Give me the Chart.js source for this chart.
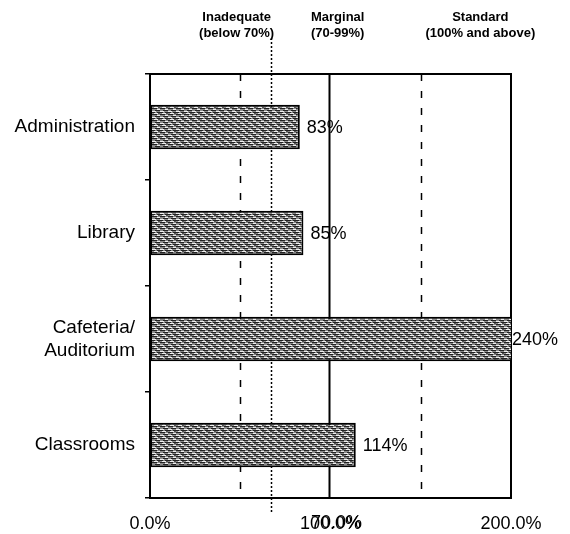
<!DOCTYPE html>
<html>
<head>
<meta charset="utf-8">
<script src="https://cdn.jsdelivr.net/npm/chart.js"></script>
<style>
  html, body { margin: 0; padding: 0; background: #fff; }
  #wrap { width: 570px; height: 534px; }
</style>
</head>
<body>
<div id="wrap"><canvas id="chart"></canvas></div>
<script>
// data
var categories = ['Administration', 'Library', ['Cafeteria/', 'Auditorium'], 'Classrooms'];
var values = [83, 85, 240, 114];
var valueLabels = ['83%', '85%', '240%', '114%'];
var axisTicks = [0, 100, 200];

// reference lines across the plot (value, style)
var refLines = [
    { value: 50, style: 'dashed' },
    { value: 67, style: 'dotted' },
    { value: 99, style: 'solid' },
    { value: 150, style: 'dashed' }
];
// band headers at the top
var headerLines = [
    ['Inadequate', '(below 70%)'],
    ['Marginal', '(70-99%)'],
    ['Standard', '(100% and above)']
];
var headerAt = [48, 104, 183];

function makePattern() {
    var c = document.createElement('canvas');
    c.width = 8; c.height = 6;
    var g = c.getContext('2d');
    g.fillStyle = '#8a8a8a';
    g.fillRect(0, 0, 8, 6);
    g.fillStyle = '#222';
    g.fillRect(0, 0, 5, 1);
    g.fillRect(3, 2, 5, 1);
    g.fillRect(0, 4, 3, 1);
    g.fillRect(5, 4, 3, 1);
    g.fillStyle = '#f0f0f0';
    g.fillRect(5, 1, 3, 1);
    g.fillRect(0, 3, 4, 1);
    g.fillRect(2, 5, 4, 1);
    g.fillStyle = '#555';
    g.fillRect(6, 5, 2, 1);
    return document.getElementById('chart').getContext('2d').createPattern(c, 'repeat');
}

var overlay = {
    id: 'overlay',
    beforeDatasetsDraw: function (chart) {
        var ctx = chart.ctx, a = chart.chartArea, x = chart.scales.x;
        ctx.save();
        ctx.strokeStyle = '#000';
        refLines.forEach(function (r) {
            var px = Math.round(x.getPixelForValue(r.value)) + 0.5;
            var y0 = a.top, y1 = a.bottom;
            ctx.beginPath();
            if (r.style === 'dashed') { ctx.setLineDash([7, 10]); ctx.lineWidth = 1.5; }
            else if (r.style === 'dotted') { ctx.setLineDash([2, 2]); ctx.lineWidth = 1.5; y0 = 38; y1 = 512; }
            else { ctx.setLineDash([]); ctx.lineWidth = 2; }
            ctx.moveTo(px, y0);
            ctx.lineTo(px, y1);
            ctx.stroke();
        });
        ctx.setLineDash([]);
        ctx.lineWidth = 2;
        ctx.beginPath();
        ctx.moveTo(a.left, a.top);
        ctx.lineTo(a.right, a.top);
        ctx.lineTo(a.right, a.bottom);
        ctx.stroke();
        ctx.restore();
    },
    afterDraw: function (chart) {
        var ctx = chart.ctx, a = chart.chartArea, x = chart.scales.x;
        ctx.save();
        ctx.fillStyle = '#000';
        // value labels
        ctx.font = '18px "Liberation Sans", Arial, sans-serif';
        ctx.textAlign = 'left';
        ctx.textBaseline = 'middle';
        chart.getDatasetMeta(0).data.forEach(function (bar, i) {
            var clipped = bar.x > a.right;
            var px = Math.min(bar.x, a.right) + (clipped ? 1 : 7);
            ctx.fillText(valueLabels[i], px, bar.y + 1);
        });
        // overlapping 70.0% tick label
        ctx.textAlign = 'center';
        ctx.textBaseline = 'middle';
        ctx.fillText('70.0%', x.getPixelForValue(100) + 6, 523);
        // headers
        ctx.font = 'bold 13px "Liberation Sans", Arial, sans-serif';
        headerLines.forEach(function (lines, i) {
            var px = x.getPixelForValue(headerAt[i]);
            ctx.fillText(lines[0], px, 17);
            ctx.fillText(lines[1], px, 33);
        });
        ctx.restore();
    }
};

new Chart(document.getElementById('chart'), {
    type: 'bar',
    data: {
        labels: categories,
        datasets: [{
            data: values,
            backgroundColor: makePattern(),
            borderColor: '#000',
            borderWidth: 2,
            borderSkipped: false,
            categoryPercentage: 1,
            barPercentage: 0.42
        }]
    },
    options: {
        indexAxis: 'y',
        responsive: true,
        maintainAspectRatio: false,
        animation: false,
        layout: { padding: { top: 74, right: 59, left: 0, bottom: 0 } },
        plugins: { legend: { display: false }, tooltip: { enabled: false } },
        scales: {
            x: {
                min: 0,
                max: 200,
                afterBuildTicks: function (scale) {
                    scale.ticks = axisTicks.map(function (v) { return { value: v }; });
                },
                afterFit: function (scale) { scale.height = 36; },
                grid: { display: false, drawTicks: false },
                border: { display: true, color: '#000', width: 2 },
                ticks: {
                    color: '#000',
                    padding: 15,
                    maxRotation: 0,
                    autoSkip: false,
                    font: { family: '"Liberation Sans", Arial, sans-serif', size: 18 },
                    callback: function (v) { return v.toFixed(1) + '%'; }
                }
            },
            y: {
                afterFit: function (scale) { scale.width = 150; },
                grid: { offset: true, drawOnChartArea: false, color: '#000', tickLength: 5, lineWidth: 1.5 },
                border: { display: true, color: '#000', width: 2 },
                ticks: {
                    color: '#000',
                    padding: 10,
                    font: { family: '"Liberation Sans", Arial, sans-serif', size: 19 }
                }
            }
        }
    },
    plugins: [overlay]
});
</script>
</body>
</html>
